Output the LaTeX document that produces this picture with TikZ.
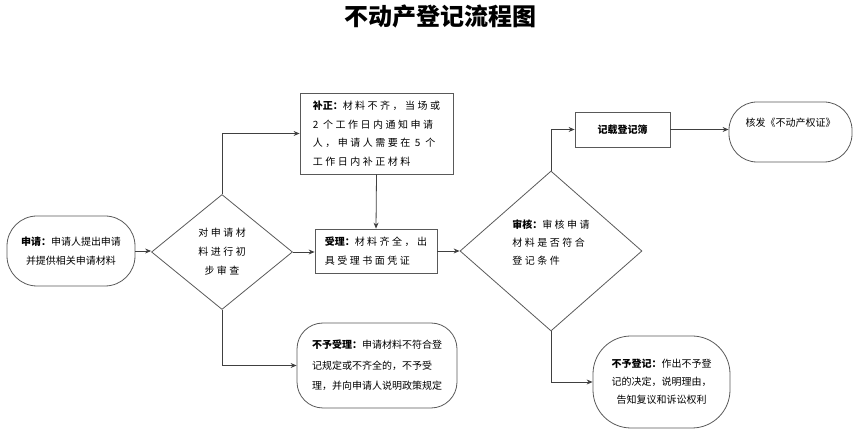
\documentclass[tikz,border=0pt]{standalone}
\usepackage{fontspec}
\setmainfont{Noto Sans CJK SC}
\newfontfamily\cjkwide[LetterSpace=25]{Noto Sans CJK SC}
\usetikzlibrary{shapes.geometric,arrows.meta}
\definecolor{linegray}{HTML}{404040}
\definecolor{boxgray}{HTML}{595959}
\begin{document}
\begin{tikzpicture}[x=1pt,y=-1pt,
  base/.style={draw=boxgray, line width=0.8pt, inner sep=0pt, text=black,
    font=\fontsize{10}{19}\selectfont},
  rbox/.style={base, rectangle, rounded corners=#1},
  sbox/.style={base, rectangle},
  dia/.style={base, diamond, align=center},
  conn/.style={draw=linegray, line width=0.8pt, -{Stealth[length=6pt,width=5pt]}},
  plain/.style={draw=linegray, line width=0.8pt}
]
\useasboundingbox (0,0) rectangle (860,435);

\node (title) at (440,16) {\fontsize{24}{26}\selectfont\bfseries 不动产登记流程图};

\node[rbox=30, minimum width=128pt, minimum height=70pt, align=center] (apply) at (71,251)
  {\textbf{申请：}申请人提出申请\\并提供相关申请材料};

\node[dia, minimum width=141pt, minimum height=115pt] (check) at (222,252)
  {\cjkwide 对申请材\\\cjkwide 料进行初\\\cjkwide 步审查};

\node[sbox, minimum width=153pt, minimum height=81pt, align=left, font=\fontsize{10}{18.7}\selectfont] (fix) at (376.5,133.5)
  {\textbf{补正：}\cjkwide 材料不齐，当场或\\\cjkwide 2 个工作日内通知申请\\\cjkwide 人，申请人需要在 5 个\\\cjkwide 工作日内补正材料};

\node[sbox, minimum width=122pt, minimum height=44pt, align=left] (accept) at (376,251)
  {\textbf{受理：}\cjkwide 材料齐全，出\\\cjkwide 具受理书面凭证\hphantom{出}};

\node[rbox=26, minimum width=160pt, minimum height=85pt, align=left, font=\fontsize{10}{20.5}\selectfont] (reject) at (377,365.5)
  {\textbf{不予受理：}申请材料不符合登\\记规定或不齐全的，不予受\\理，并向申请人说明政策规定};

\node[dia, minimum width=182pt, minimum height=160pt, align=left, font=\fontsize{10}{18}\selectfont] (audit) at (551,251)
  {\textbf{审核：}\cjkwide 审核申请\\\cjkwide 材料是否符合\\\cjkwide 登记条件\\\mbox{}};

\node[sbox, minimum width=95pt, minimum height=35pt, align=center] (record) at (622.5,129.5)
  {\textbf{记载登记簿}};

\node[rbox=28, minimum width=123pt, minimum height=60pt, align=center] (issue) at (790.5,132)
  {核发《不动产权证》\\\mbox{}};

\node[rbox=38, minimum width=137pt, minimum height=92pt, align=center, font=\fontsize{10}{18}\selectfont] (refuse) at (661.5,382)
  {\textbf{不予登记：}作出不予登\\记的决定，说明理由，\\告知复议和诉讼权利};

\draw[conn] (apply.east) -- (apply.east -| check.west);
\draw[conn] (check.north) |- (fix.west);
\draw[conn] (fix.south) -- (accept.north);
\draw[conn] (check.east) -- (check.east -| accept.west);
\draw[conn] (check.south) |- (reject.west);
\draw[conn] (accept.east) -- (audit.west);
\draw[conn] (audit.north) |- (record.west);
\draw[conn] (record.east) -- (record.east -| issue.west);
\draw[conn] (audit.south) |- (refuse.west);
\end{tikzpicture}
\end{document}
